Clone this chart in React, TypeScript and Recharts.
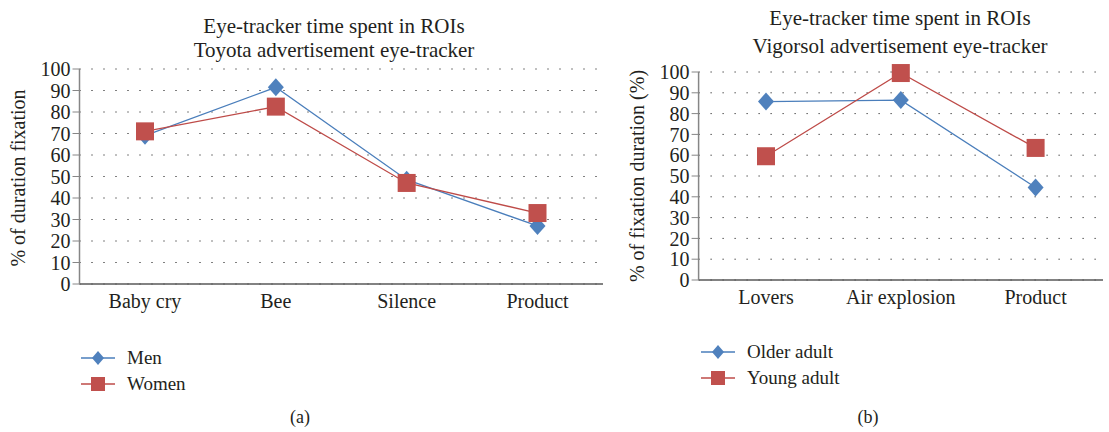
import React from 'react';
import { LineChart, Line, XAxis, YAxis, CartesianGrid } from 'recharts';

const toyotaCategories = ['Baby cry', 'Bee', 'Silence', 'Product'];
const menValues = [69, 91.5, 48.5, 27];
const womenValues = [71, 82.5, 47, 33];

const vigorsolCategories = ['Lovers', 'Air explosion', 'Product'];
const olderValues = [85.8, 86.5, 44.5];
const youngValues = [59.5, 99.5, 63.5];

const yTicks = [0, 10, 20, 30, 40, 50, 60, 70, 80, 90, 100];

const BLUE = '#4F81BD';
const BLUE_LINE = '#4A7EBB';
const RED = '#C0504D';
const RED_LINE = '#BE4B48';
const FONT = '"Liberation Serif", "DejaVu Serif", serif';
const TEXT = '#231F20';

const toyotaData = toyotaCategories.map((name, i) => ({ name, men: menValues[i], women: womenValues[i] }));
const vigorsolData = vigorsolCategories.map((name, i) => ({ name, older: olderValues[i], young: youngValues[i] }));

const Diamond = (props: any) => {
    const { cx, cy, index } = props;
    if (cx == null || cy == null) return <g key={`d-${index}`} />;
    return (
        <path
            key={`d-${index}`}
            d={`M${cx},${cy - 9} L${cx + 8},${cy} L${cx},${cy + 9} L${cx - 8},${cy} Z`}
            fill={BLUE}
        />
    );
};

const Square = (props: any) => {
    const { cx, cy, index } = props;
    if (cx == null || cy == null) return <g key={`s-${index}`} />;
    return <rect key={`s-${index}`} x={cx - 9} y={cy - 9} width={18} height={18} fill={RED} />;
};

const tickStyle = { fontSize: 20, fill: TEXT, fontFamily: FONT };

const LegendItem = ({ color, label, shape }: { color: string; label: string; shape: 'diamond' | 'square' }) => (
    <div style={{ display: 'flex', alignItems: 'center', height: 26 }}>
        <svg width={34} height={20} style={{ marginRight: 12 }}>
            <line x1={0} y1={10} x2={34} y2={10} stroke={color} strokeWidth={1.5} />
            {shape === 'diamond' ? (
                <path d="M17,3 L23,10 L17,17 L11,10 Z" fill={BLUE} />
            ) : (
                <rect x={10} y={3} width={14} height={14} fill={RED} />
            )}
        </svg>
        <span style={{ fontSize: 19, color: TEXT }}>{label}</span>
    </div>
);

const abs = (left: number, top: number, extra: React.CSSProperties = {}): React.CSSProperties => ({
    position: 'absolute',
    left,
    top,
    ...extra,
});

export default function App() {
    return (
        <div style={{ position: 'absolute', left: 0, top: 0, width: 1109, height: 432, background: '#fff', fontFamily: FONT, color: TEXT }}>
            {/* (a) Toyota */}
            <div style={abs(334, 14, { transform: 'translateX(-50%)', textAlign: 'center', fontSize: 21, lineHeight: '24px', whiteSpace: 'nowrap' })}>
                Eye-tracker time spent in ROIs
                <br />
                Toyota advertisement eye-tracker
            </div>
            <div style={abs(18, 178, { transform: 'translate(-50%, -50%) rotate(-90deg)', fontSize: 20, whiteSpace: 'nowrap' })}>
                % of duration fixation
            </div>
            <div style={abs(0, 0)}>
                <LineChart width={620} height={320} data={toyotaData} margin={{ top: 69, right: 17, bottom: 6, left: 0 }}>
                    <CartesianGrid vertical={false} stroke="#000" strokeDasharray="1 11" strokeDashoffset={-12} />
                    <XAxis
                        dataKey="name"
                        height={30}
                        padding={{ left: 65.5, right: 65.5 }}
                        tick={tickStyle}
                        tickLine={false}
                        axisLine={{ stroke: '#595959', strokeWidth: 1.5 }}
                        tickMargin={4}
                        interval={0}
                    />
                    <YAxis
                        width={79.5}
                        domain={[0, 100]}
                        ticks={yTicks}
                        interval={0}
                        tick={tickStyle}
                        tickSize={7}
                        tickLine={{ stroke: '#868686' }}
                        axisLine={{ stroke: '#868686', strokeWidth: 1.5 }}
                        tickMargin={2}
                    />
                    <Line dataKey="men" stroke={BLUE_LINE} strokeWidth={1.3} dot={Diamond} activeDot={false} isAnimationActive={false} />
                    <Line dataKey="women" stroke={RED_LINE} strokeWidth={1.3} dot={Square} activeDot={false} isAnimationActive={false} />
                </LineChart>
            </div>
            <div style={abs(81, 345)}>
                <LegendItem color={BLUE_LINE} label="Men" shape="diamond" />
                <LegendItem color={RED_LINE} label="Women" shape="square" />
            </div>
            <div style={abs(300, 417, { transform: 'translate(-50%, -50%)', fontSize: 18 })}>(a)</div>

            {/* (b) Vigorsol */}
            <div style={abs(900, 4, { transform: 'translateX(-50%)', textAlign: 'center', fontSize: 21, lineHeight: '28px', whiteSpace: 'nowrap' })}>
                Eye-tracker time spent in ROIs
                <br />
                Vigorsol advertisement eye-tracker
            </div>
            <div style={abs(637, 176, { transform: 'translate(-50%, -50%) rotate(-90deg)', fontSize: 20, whiteSpace: 'nowrap' })}>
                % of fixation duration (%)
            </div>
            <div style={abs(600, 0)}>
                <LineChart width={509} height={320} data={vigorsolData} margin={{ top: 72, right: 6, bottom: 10, left: 0 }}>
                    <CartesianGrid vertical={false} stroke="#000" strokeDasharray="1 11" strokeDashoffset={-12} />
                    <XAxis
                        dataKey="name"
                        height={30}
                        padding={{ left: 67.4, right: 67.4 }}
                        tick={tickStyle}
                        tickLine={false}
                        axisLine={{ stroke: '#595959', strokeWidth: 1.5 }}
                        tickMargin={4}
                        interval={0}
                    />
                    <YAxis
                        width={98.6}
                        domain={[0, 100]}
                        ticks={yTicks}
                        interval={0}
                        tick={tickStyle}
                        tickSize={7}
                        tickLine={{ stroke: '#868686' }}
                        axisLine={{ stroke: '#868686', strokeWidth: 1.5 }}
                        tickMargin={2}
                    />
                    <Line dataKey="older" stroke={BLUE_LINE} strokeWidth={1.3} dot={Diamond} activeDot={false} isAnimationActive={false} />
                    <Line dataKey="young" stroke={RED_LINE} strokeWidth={1.3} dot={Square} activeDot={false} isAnimationActive={false} />
                </LineChart>
            </div>
            <div style={abs(701, 339)}>
                <LegendItem color={BLUE_LINE} label="Older adult" shape="diamond" />
                <LegendItem color={RED_LINE} label="Young adult" shape="square" />
            </div>
            <div style={abs(868, 417, { transform: 'translate(-50%, -50%)', fontSize: 18 })}>(b)</div>
        </div>
    );
}
